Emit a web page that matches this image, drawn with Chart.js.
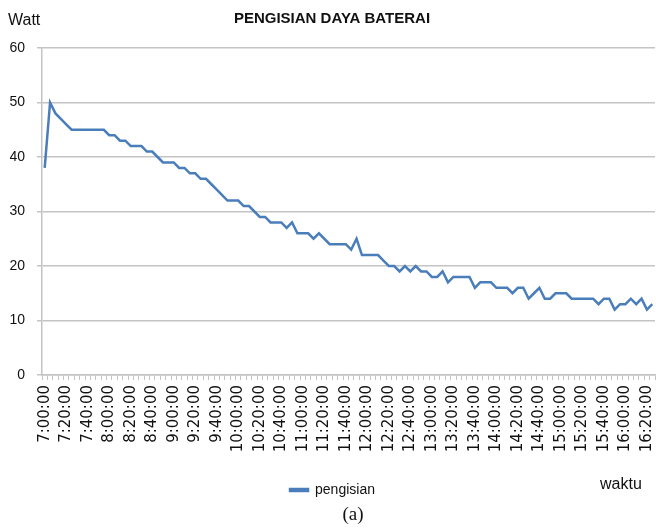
<!DOCTYPE html>
<html>
<head>
<meta charset="utf-8">
<script src="https://cdn.jsdelivr.net/npm/chart.js@4.4.1/dist/chart.umd.min.js"></script>
<style>
  html, body { margin: 0; padding: 0; background: #fff; overflow: hidden; }
  #wrap { position: relative; width: 656px; height: 528px; }
</style>
</head>
<body>
<div id="wrap"><canvas id="c" width="656" height="528"></canvas></div>
<script>
// ---- data ----
const chartTitle = "PENGISIAN DAYA BATERAI";
const yAxisTitle = "Watt";
const xAxisTitle = "waktu";
const caption = "(a)";
const seriesName = "pengisian";

const times = [
  "7:00:00","7:05:00","7:10:00","7:15:00","7:20:00","7:25:00","7:30:00","7:35:00","7:40:00","7:45:00","7:50:00","7:55:00",
  "8:00:00","8:05:00","8:10:00","8:15:00","8:20:00","8:25:00","8:30:00","8:35:00","8:40:00","8:45:00","8:50:00","8:55:00",
  "9:00:00","9:05:00","9:10:00","9:15:00","9:20:00","9:25:00","9:30:00","9:35:00","9:40:00","9:45:00","9:50:00","9:55:00",
  "10:00:00","10:05:00","10:10:00","10:15:00","10:20:00","10:25:00","10:30:00","10:35:00","10:40:00","10:45:00","10:50:00","10:55:00",
  "11:00:00","11:05:00","11:10:00","11:15:00","11:20:00","11:25:00","11:30:00","11:35:00","11:40:00","11:45:00","11:50:00","11:55:00",
  "12:00:00","12:05:00","12:10:00","12:15:00","12:20:00","12:25:00","12:30:00","12:35:00","12:40:00","12:45:00","12:50:00","12:55:00",
  "13:00:00","13:05:00","13:10:00","13:15:00","13:20:00","13:25:00","13:30:00","13:35:00","13:40:00","13:45:00","13:50:00","13:55:00",
  "14:00:00","14:05:00","14:10:00","14:15:00","14:20:00","14:25:00","14:30:00","14:35:00","14:40:00","14:45:00","14:50:00","14:55:00",
  "15:00:00","15:05:00","15:10:00","15:15:00","15:20:00","15:25:00","15:30:00","15:35:00","15:40:00","15:45:00","15:50:00","15:55:00",
  "16:00:00","16:05:00","16:10:00","16:15:00","16:20:00","16:25:00"
];

const pengisian = [
  38,50,48,47,46,45,45,45,45,45,45,45,44,44,43,43,42,42,42,41,
  41,40,39,39,39,38,38,37,37,36,36,35,34,33,32,32,32,31,31,30,
  29,29,28,28,28,27,28,26,26,26,25,26,25,24,24,24,24,23,25,22,
  22,22,22,21,20,20,19,20,19,20,19,19,18,18,19,17,18,18,18,18,
  16,17,17,17,16,16,16,15,16,16,14,15,16,14,14,15,15,15,14,14,
  14,14,14,13,14,14,12,13,13,14,13,14,12,13
];

const yTicks = [0, 10, 20, 30, 40, 50, 60];
const labelEvery = 4;

// ---- styles ----
const lineColor = "#4a7ebb";
const gridColor = "#c4c4c4";
const textColor = "#111111";
const sans = "'Liberation Sans', Arial, sans-serif";

const textPlugin = {
  id: "extraText",
  afterDraw(chart) {
    const ctx = chart.ctx;
    ctx.save();
    ctx.fillStyle = textColor;
    ctx.textBaseline = "middle";
    ctx.textAlign = "center";
    ctx.font = "bold 15px " + sans;
    ctx.fillText(chartTitle, 332, 19);
    ctx.textAlign = "left";
    ctx.font = "16px " + sans;
    ctx.fillText(yAxisTitle, 8, 21);
    ctx.fillText(xAxisTitle, 600, 485);
    ctx.textAlign = "center";
    ctx.font = "19px 'Liberation Serif', 'Times New Roman', serif";
    ctx.fillText(caption, 353, 515);
    ctx.restore();
  }
};

new Chart(document.getElementById("c"), {
  type: "line",
  data: {
    labels: times,
    datasets: [{
      label: seriesName,
      data: pengisian,
      borderColor: lineColor,
      backgroundColor: lineColor,
      borderWidth: 2.5,
      pointRadius: 0,
      tension: 0,
      fill: false
    }]
  },
  options: {
    responsive: false,
    animation: false,
    layout: { padding: { left: 10, right: 1, top: 48, bottom: 21 } },
    plugins: {
      legend: {
        position: "bottom",
        labels: {
          boxWidth: 18,
          boxHeight: 2,
          padding: 10,
          color: textColor,
          font: { family: sans, size: 14 }
        }
      },
      title: { display: false },
      tooltip: { enabled: false }
    },
    scales: {
      x: {
        type: "category",
        offset: true,
        grid: { offset: true, drawOnChartArea: false, drawTicks: true, tickLength: 5, color: gridColor, lineWidth: 1 },
        border: { color: gridColor, width: 1.5 },
        ticks: {
          autoSkip: false,
          minRotation: 90,
          maxRotation: 90,
          padding: 5,
          color: textColor,
          font: { family: "'DejaVu Sans', sans-serif", size: 15 },
          callback: (v, i) => (i % labelEvery === 0 ? times[i] : "")
        },
        afterFit: (s) => { s.height = 98; s.paddingLeft = 0; s.paddingRight = 0; }
      },
      y: {
        min: yTicks[0],
        max: yTicks[yTicks.length - 1],
        ticks: { stepSize: 10, padding: 12, color: textColor, font: { family: sans, size: 14 } },
        grid: { color: gridColor, lineWidth: 1.5, tickLength: 5 },
        border: { color: gridColor, width: 1.5 },
        afterFit: (s) => { s.width = 32; }
      }
    }
  },
  plugins: [textPlugin]
});
</script>
</body>
</html>
